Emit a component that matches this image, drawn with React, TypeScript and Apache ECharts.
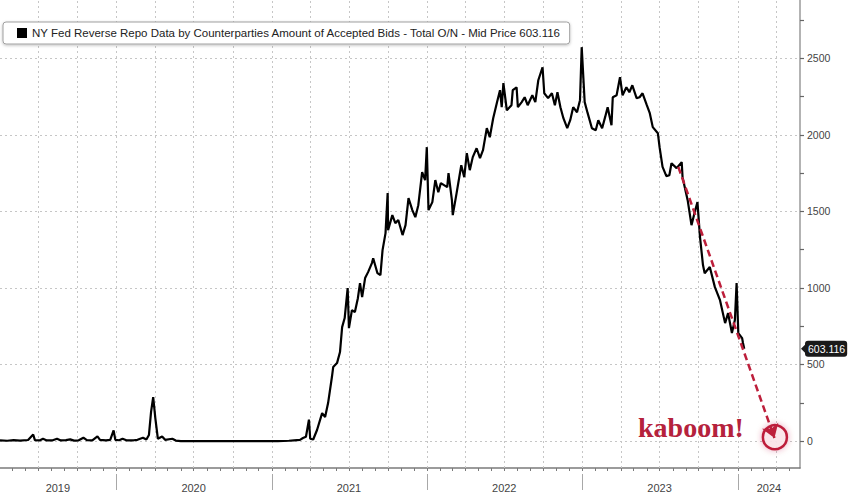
import React, { useEffect, useRef } from "react";
import * as echarts from "echarts";

const SERIES_NAME =
  "NY Fed Reverse Repo Data by Counterparties Amount of Accepted Bids - Total O/N - Mid Price 603.116";

const dates = [
  "2019-04-03","2019-04-20","2019-05-05","2019-05-20","2019-06-08","2019-06-20","2019-06-24","2019-07-05","2019-07-13","2019-07-22",
  "2019-08-05","2019-08-15","2019-08-24","2019-09-05","2019-09-15","2019-09-24","2019-10-05","2019-10-16","2019-10-24","2019-11-06",
  "2019-11-18","2019-11-24","2019-12-08","2019-12-18","2019-12-26","2019-12-30","2020-01-08","2020-01-16","2020-01-25","2020-02-11",
  "2020-02-20","2020-03-04","2020-03-12","2020-03-18","2020-03-23","2020-03-28","2020-04-02","2020-04-08","2020-04-18","2020-04-25",
  "2020-05-12","2020-05-20","2020-06-01","2020-07-15","2020-09-01","2020-10-15","2020-12-01","2021-01-15","2021-02-10","2021-02-22",
  "2021-03-08","2021-03-15","2021-03-22","2021-03-29","2021-04-01","2021-04-08","2021-04-17","2021-04-29","2021-05-06","2021-05-13",
  "2021-05-22","2021-05-25","2021-06-03","2021-06-10","2021-06-15","2021-06-21","2021-06-28","2021-07-01","2021-07-08","2021-07-15",
  "2021-07-22","2021-07-27","2021-08-01","2021-08-08","2021-08-15","2021-08-24","2021-08-27","2021-09-06","2021-09-13","2021-09-18",
  "2021-09-25","2021-09-30","2021-10-01","2021-10-11","2021-10-18","2021-10-25","2021-11-04","2021-11-11","2021-11-18","2021-11-27",
  "2021-12-04","2021-12-11","2021-12-20","2021-12-27","2021-12-31","2022-01-04","2022-01-13","2022-01-20","2022-01-27","2022-02-02",
  "2022-02-17","2022-02-20","2022-02-28","2022-03-02","2022-03-11","2022-03-22","2022-03-29","2022-04-04","2022-04-11","2022-04-18",
  "2022-04-27","2022-05-05","2022-05-12","2022-05-21","2022-05-28","2022-06-05","2022-06-14","2022-06-21","2022-06-25","2022-06-29",
  "2022-07-07","2022-07-18","2022-07-21","2022-07-30","2022-08-02","2022-08-11","2022-08-18","2022-08-25","2022-09-05","2022-09-12",
  "2022-09-19","2022-09-29","2022-10-03","2022-10-12","2022-10-21","2022-10-28","2022-11-03","2022-11-10","2022-11-17","2022-11-26",
  "2022-12-03","2022-12-10","2022-12-19","2022-12-26","2022-12-30","2023-01-06","2023-01-13","2023-01-23","2023-02-01","2023-02-07",
  "2023-02-16","2023-02-23","2023-03-01","2023-03-10","2023-03-13","2023-03-22","2023-03-30","2023-04-05","2023-04-14","2023-04-21",
  "2023-04-28","2023-05-08","2023-05-15","2023-05-22","2023-06-01","2023-06-08","2023-06-15","2023-06-27","2023-07-01","2023-07-08",
  "2023-07-17","2023-07-24","2023-07-29","2023-08-10","2023-08-22","2023-08-24","2023-09-05","2023-09-14","2023-09-21","2023-09-28",
  "2023-10-04","2023-10-11","2023-10-15","2023-10-27","2023-11-08","2023-11-20","2023-12-02","2023-12-09","2023-12-18","2023-12-25",
  "2023-12-29","2024-01-02","2024-01-11","2024-01-13","2024-01-16"
];

const values = [
  5, 2, 6, 3, 7, 43, 6, 4, 15, 4,
  5, 15, 4, 6, 11, 3, 5, 22, 6, 4,
  30, 8, 5, 8, 70, 8, 5, 15, 5, 5,
  8, 22, 10, 40, 190, 287, 150, 15, 30, 8,
  15, 3, 0, 0, 0, 0, 0, 0, 2, 5,
  8, 20, 28, 140, 15, 10, 72, 182, 157, 248,
  418, 483, 509, 581, 744, 803, 999, 737, 855, 842,
  933, 1031, 940, 1064, 1103, 1162, 1194, 1096, 1083, 1247,
  1358, 1619, 1377, 1475, 1423, 1443, 1345, 1410, 1586, 1508,
  1462, 1540, 1756, 1704, 1919, 1508, 1560, 1704, 1625, 1684,
  1658, 1749, 1573, 1475, 1619, 1801, 1723, 1880, 1769, 1854,
  1912, 1847, 1899, 2043, 1984, 2108, 2213, 2291, 2180, 2337,
  2160, 2193, 2291, 2310, 2180, 2213, 2245, 2193, 2258, 2213,
  2356, 2441, 2271, 2239, 2271, 2193, 2278, 2180, 2108, 2043,
  2095, 2180, 2147, 2226, 2572, 2213, 2141, 2043, 2030, 2095,
  2043, 2115, 2180, 2062, 2245, 2258, 2376, 2258, 2310, 2278,
  2323, 2239, 2245, 2271, 2193, 2141, 2050, 2010, 1919, 1790,
  1730, 1736, 1814, 1782, 1821, 1723, 1573, 1410, 1488, 1560,
  1332, 1149, 1096, 1136, 1005, 920, 770, 835, 705, 790,
  1031, 705, 672, 640, 603.116
];

const LAST_VALUE = 603.116;
const X_MIN = "2019-04-03";
const X_MAX = "2024-05-26";
const Y_MIN = -176;
const Y_MAX = 2880;

const yLabelValues = [0, 500, 1000, 1500, 2000, 2500];
const yTickValues = [0, 250, 500, 750, 1000, 1250, 1500, 1750, 2000, 2250, 2500, 2750];

const yearLabelPositions = ["2019-08-17", "2020-07-01", "2021-07-01", "2022-07-01", "2023-07-01", "2024-03-14"];
const yearStarts = ["2020-01-01", "2021-01-01", "2022-01-01", "2023-01-01", "2024-01-01"];
const quarterLines = [
  "2019-07-01","2019-10-01","2020-01-01","2020-04-01","2020-07-01","2020-10-01",
  "2021-01-01","2021-04-01","2021-07-01","2021-10-01","2022-01-01","2022-04-01",
  "2022-07-01","2022-10-01","2023-01-01","2023-04-01","2023-07-01","2023-10-01",
  "2024-01-01","2024-04-01"
];

const trendFrom: [string, number] = ["2023-08-14", 1790];
const trendTo: [string, number] = ["2024-03-27", 20];
const circleAt: [string, number] = ["2024-03-28", 25];

const RED = "#bd1f3b";

function ts(s: string): number {
  const [y, m, d] = s.split("-").map(Number);
  return new Date(y, m - 1, d).getTime();
}

function monthTicks(): number[] {
  const out: number[] = [];
  for (let y = 2019; y <= 2024; y++) {
    for (let m = 0; m < 12; m++) {
      const t = new Date(y, m, 1).getTime();
      if (t >= ts(X_MIN) && t <= ts(X_MAX)) out.push(t);
    }
  }
  return out;
}

export default function App() {
  const ref = useRef<HTMLDivElement>(null);

  useEffect(() => {
    if (!ref.current) return;
    const chart = echarts.init(ref.current, null, { renderer: "svg" });
    const data = dates.map((d, i) => [ts(d), values[i]]);

    const option: any = {
      animation: false,
      backgroundColor: "#fff",
      grid: { left: 0, right: 48, top: 0, bottom: 28, containLabel: false },
      legend: {
        show: true,
        left: 3,
        top: 22,
        data: [SERIES_NAME],
        icon: "rect",
        itemWidth: 10,
        itemHeight: 10,
        padding: [5, 8, 5, 14],
        backgroundColor: "#fff",
        borderColor: "#a0a0a0",
        borderWidth: 1,
        borderRadius: 3,
        shadowBlur: 3,
        shadowColor: "rgba(0,0,0,0.25)",
        shadowOffsetY: 1,
        selectedMode: false,
        textStyle: { color: "#222", fontSize: 11.5, fontFamily: "Liberation Sans" },
      },
      xAxis: [
        {
          type: "value",
          min: ts(X_MIN),
          max: ts(X_MAX),
          position: "bottom",
          axisLine: { show: true, onZero: false, lineStyle: { color: "#7a7a7a", width: 1.5 } },
          axisTick: { show: true, customValues: monthTicks(), length: 3, lineStyle: { color: "#7a7a7a" } },
          axisLabel: { show: false },
          splitLine: { show: false },
        },
        {
          type: "value",
          min: ts(X_MIN),
          max: ts(X_MAX),
          position: "bottom",
          offset: 6,
          axisLine: { show: false, onZero: false },
          axisTick: {
            show: true,
            customValues: yearStarts.map(ts),
            length: 16,
            lineStyle: { color: "#a8a8a8", width: 1 },
          },
          axisLabel: {
            show: true,
            customValues: yearLabelPositions.map(ts),
            formatter: (v: number) => String(new Date(v).getFullYear()),
            margin: 8,
            color: "#444",
            fontSize: 11,
            fontFamily: "Liberation Sans",
          },
          splitLine: { show: false },
        },
      ],
      yAxis: {
        type: "value",
        position: "right",
        min: Y_MIN,
        max: Y_MAX,
        axisLine: { show: true, onZero: false, lineStyle: { color: "#9a9a9a", width: 1.5 } },
        axisTick: { show: true, customValues: yTickValues, length: 4, lineStyle: { color: "#666", width: 1.2 } },
        axisLabel: {
          show: true,
          customValues: yLabelValues,
          formatter: (v: number) => String(v),
          margin: 7,
          color: "#444",
          fontSize: 10.5,
          fontFamily: "Liberation Sans",
        },
        splitLine: { show: false },
      },
      graphic: [
        {
          type: "group",
          left: 8,
          top: 29,
          z: 100,
          children: [
            { type: "rect", shape: { x: 0, y: 0, width: 5, height: 7 }, style: { fill: "#b8b8b8" } },
            { type: "line", shape: { x1: 0, y1: 2.3, x2: 5, y2: 2.3 }, style: { stroke: "#fff", lineWidth: 0.8 } },
            { type: "line", shape: { x1: 0, y1: 4.7, x2: 5, y2: 4.7 }, style: { stroke: "#fff", lineWidth: 0.8 } },
          ],
        },
        {
          type: "text",
          left: 638,
          top: 413,
          z: 100,
          style: {
            text: "kaboom!",
            font: 'bold 28px "Liberation Serif"',
            fill: "#b5223c",
          },
        },
      ],
      series: [
        {
          type: "line",
          data: [],
          z: 1,
          silent: true,
          markLine: {
            silent: true,
            z: 1,
            symbol: ["none", "none"],
            label: { show: false },
            lineStyle: { type: [2, 3], color: "#c6c6c6", width: 1 },
            data: [
              ...yLabelValues.map((v) => ({ yAxis: v })),
              ...quarterLines.map((d) => ({ xAxis: ts(d) })),
            ],
          },
        },
        {
          name: SERIES_NAME,
          type: "line",
          data,
          z: 3,
          showSymbol: false,
          symbol: "none",
          color: "#000",
          lineStyle: { color: "#000", width: 2.2 },
        },
        {
          type: "line",
          data: [],
          z: 4,
          silent: true,
          markPoint: {
            silent: true,
            z: 4,
            data: [
              {
                coord: [ts(circleAt[0]), circleAt[1]],
                symbol: "circle",
                symbolSize: 24,
                itemStyle: {
                  color: "rgba(252,232,236,0.9)",
                  borderColor: RED,
                  borderWidth: 2.5,
                  shadowBlur: 6,
                  shadowColor: "rgba(193,29,58,0.35)",
                },
                label: { show: false },
              },
            ],
          },
        },
        {
          type: "line",
          data: [],
          z: 6,
          silent: true,
          markLine: {
            silent: true,
            z: 8,
            symbol: ["none", "arrow"],
            symbolSize: 13,
            label: { show: false },
            lineStyle: { color: RED, width: 2.5, type: [7, 4] },
            data: [
              [
                { coord: [ts(trendFrom[0]), trendFrom[1]] },
                { coord: [ts(trendTo[0]), trendTo[1]] },
              ],
            ],
          },
        },
        {
          type: "line",
          data: [],
          z: 6,
          clip: false,
          silent: true,
          markLine: {
            silent: true,
            z: 9,
            symbol: ["none", "none"],
            lineStyle: { color: "rgba(0,0,0,0)", width: 1 },
            label: {
              show: true,
              position: "end",
              distance: 5,
              formatter: String(LAST_VALUE),
              color: "#fff",
              backgroundColor: "#1a1a1a",
              padding: [3, 2, 2, 3],
              borderRadius: 3,
              fontSize: 10.5,
              fontFamily: "Liberation Sans",
            },
            data: [{ yAxis: LAST_VALUE }],
          },
          markPoint: {
            silent: true,
            z: 9,
            data: [
              {
                coord: [ts(X_MAX), LAST_VALUE],
                symbol: "triangle",
                symbolRotate: 90,
                symbolSize: [12, 6],
                symbolOffset: [4, 0],
                itemStyle: { color: "#1a1a1a" },
                label: { show: false },
              },
            ],
          },
        },
      ],
    };

    chart.setOption(option);
    return () => chart.dispose();
  }, []);

  return (
    <div
      ref={ref}
      style={{ position: "absolute", left: 0, top: 0, width: 848, height: 496 }}
    />
  );
}
